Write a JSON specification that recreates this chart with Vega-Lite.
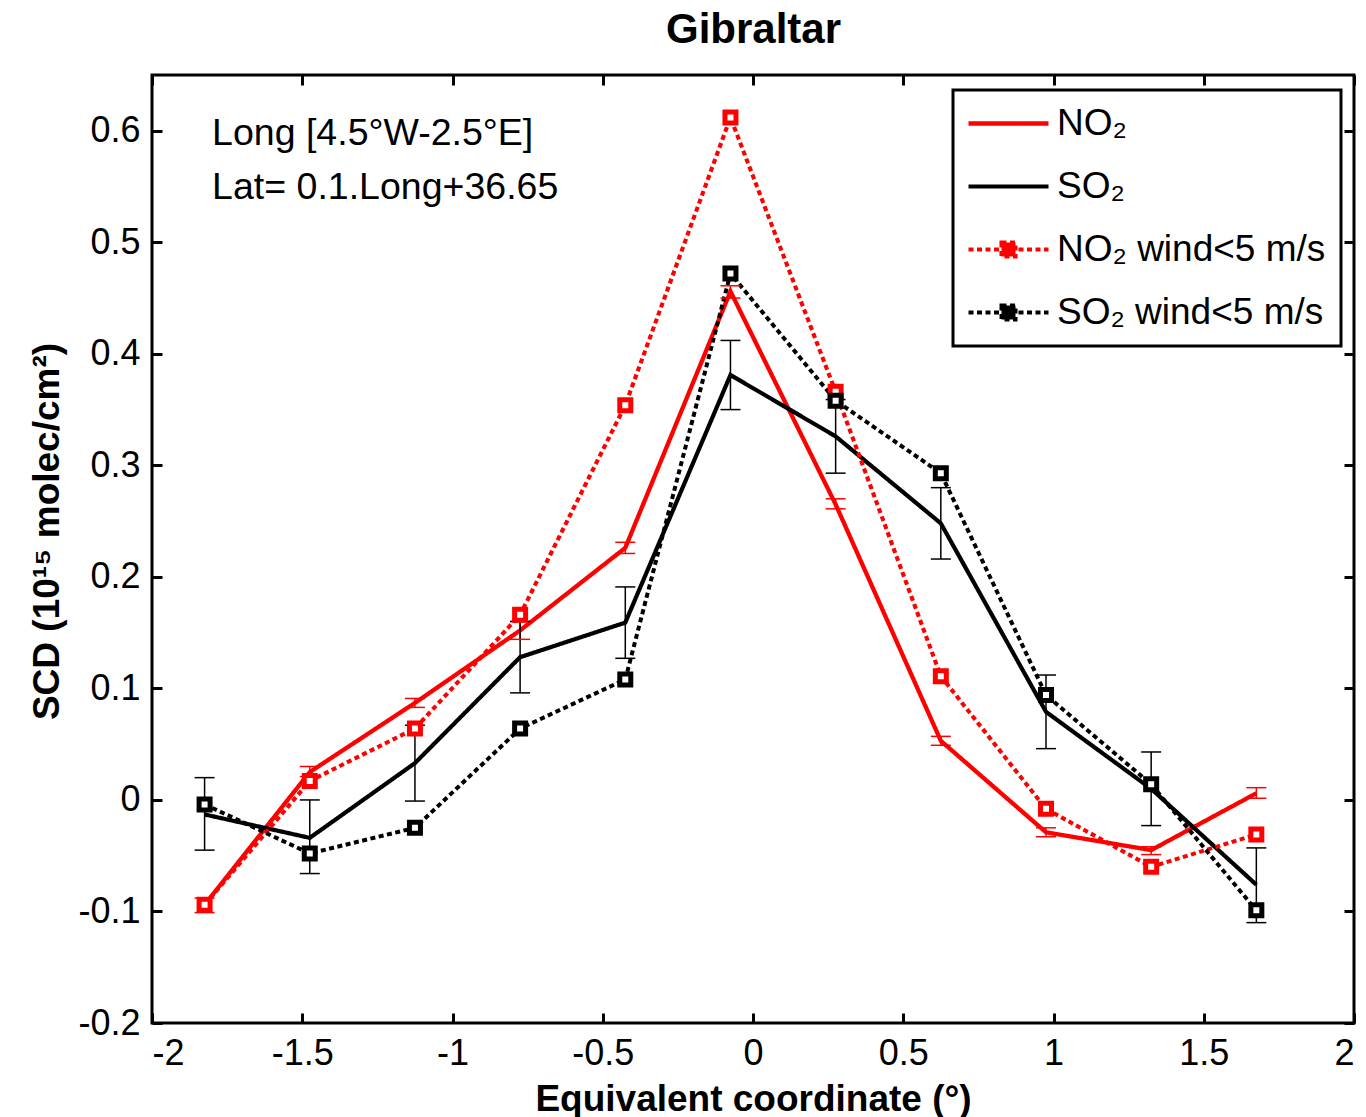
{
  "$schema": "https://vega.github.io/schema/vega-lite/v6.json",
  "width": 1202,
  "height": 948,
  "autosize": {"type": "none"},
  "padding": {"left": 152, "top": 75, "right": 12, "bottom": 94},
  "background": "white",
  "config": {
    "view": {"stroke": "black", "strokeWidth": 3},
    "font": "Liberation Sans",
    "axis": {
      "domain": false, "grid": false, "ticks": true, "tickSize": 10, "tickWidth": 3, "tickColor": "black", "offset": -10,
      "labelFontSize": 36, "labelColor": "black", "labelFont": "Liberation Sans",
      "titleFontSize": 37, "titleFontWeight": "bold", "titleColor": "black", "titleFont": "Liberation Sans"
    },
    "axisLeft": {"labelPadding": 12, "titleX": -104, "titleY": 456, "titleBaseline": "alphabetic", "titleAngle": -90},
    "axisBottom": {"labelPadding": 13, "titleY": 97, "titleBaseline": "alphabetic"},
    "axisTop": {"titleY": -43, "titleBaseline": "alphabetic", "titleFontSize": 42}
  },
  "datasets": {
    "main": [
      {"series": "NO₂", "x": -1.825, "y": -0.094, "lo": -0.101, "hi": -0.088},
      {"series": "NO₂", "x": -1.475, "y": 0.025, "lo": 0.021, "hi": 0.030},
      {"series": "NO₂", "x": -1.125, "y": 0.087, "lo": 0.083, "hi": 0.091},
      {"series": "NO₂", "x": -0.775, "y": 0.152, "lo": 0.144, "hi": 0.160},
      {"series": "NO₂", "x": -0.425, "y": 0.226, "lo": 0.221, "hi": 0.231},
      {"series": "NO₂", "x": -0.075, "y": 0.456, "lo": 0.450, "hi": 0.461},
      {"series": "NO₂", "x": 0.275, "y": 0.265, "lo": 0.261, "hi": 0.270},
      {"series": "NO₂", "x": 0.625, "y": 0.053, "lo": 0.049, "hi": 0.057},
      {"series": "NO₂", "x": 0.975, "y": -0.029, "lo": -0.033, "hi": -0.025},
      {"series": "NO₂", "x": 1.325, "y": -0.045, "lo": -0.049, "hi": -0.042},
      {"series": "NO₂", "x": 1.675, "y": 0.006, "lo": 0.0015, "hi": 0.011},
      {"series": "SO₂", "x": -1.825, "y": -0.013, "lo": -0.045, "hi": 0.020},
      {"series": "SO₂", "x": -1.475, "y": -0.034, "lo": -0.066, "hi": 0.000},
      {"series": "SO₂", "x": -1.125, "y": 0.033, "lo": -0.001, "hi": 0.067},
      {"series": "SO₂", "x": -0.775, "y": 0.128, "lo": 0.096, "hi": 0.160},
      {"series": "SO₂", "x": -0.425, "y": 0.159, "lo": 0.127, "hi": 0.191},
      {"series": "SO₂", "x": -0.075, "y": 0.381, "lo": 0.350, "hi": 0.412},
      {"series": "SO₂", "x": 0.275, "y": 0.326, "lo": 0.293, "hi": 0.359},
      {"series": "SO₂", "x": 0.625, "y": 0.248, "lo": 0.216, "hi": 0.280},
      {"series": "SO₂", "x": 0.975, "y": 0.079, "lo": 0.046, "hi": 0.112},
      {"series": "SO₂", "x": 1.325, "y": 0.010, "lo": -0.023, "hi": 0.043},
      {"series": "SO₂", "x": 1.675, "y": -0.076, "lo": -0.110, "hi": -0.043},
      {"series": "NO₂ wind<5 m/s", "x": -1.825, "y": -0.094},
      {"series": "NO₂ wind<5 m/s", "x": -1.475, "y": 0.017},
      {"series": "NO₂ wind<5 m/s", "x": -1.125, "y": 0.064},
      {"series": "NO₂ wind<5 m/s", "x": -0.775, "y": 0.166},
      {"series": "NO₂ wind<5 m/s", "x": -0.425, "y": 0.354},
      {"series": "NO₂ wind<5 m/s", "x": -0.075, "y": 0.612},
      {"series": "NO₂ wind<5 m/s", "x": 0.275, "y": 0.366},
      {"series": "NO₂ wind<5 m/s", "x": 0.625, "y": 0.111},
      {"series": "NO₂ wind<5 m/s", "x": 0.975, "y": -0.008},
      {"series": "NO₂ wind<5 m/s", "x": 1.325, "y": -0.060},
      {"series": "NO₂ wind<5 m/s", "x": 1.675, "y": -0.031},
      {"series": "SO₂ wind<5 m/s", "x": -1.825, "y": -0.004},
      {"series": "SO₂ wind<5 m/s", "x": -1.475, "y": -0.048},
      {"series": "SO₂ wind<5 m/s", "x": -1.125, "y": -0.025},
      {"series": "SO₂ wind<5 m/s", "x": -0.775, "y": 0.064},
      {"series": "SO₂ wind<5 m/s", "x": -0.425, "y": 0.108},
      {"series": "SO₂ wind<5 m/s", "x": -0.075, "y": 0.472},
      {"series": "SO₂ wind<5 m/s", "x": 0.275, "y": 0.358},
      {"series": "SO₂ wind<5 m/s", "x": 0.625, "y": 0.293},
      {"series": "SO₂ wind<5 m/s", "x": 0.975, "y": 0.094},
      {"series": "SO₂ wind<5 m/s", "x": 1.325, "y": 0.014},
      {"series": "SO₂ wind<5 m/s", "x": 1.675, "y": -0.099}
    ],
    "notes": [
      {"x": -1.80, "y": 0.5874, "text": "Long [4.5°W-2.5°E]"},
      {"x": -1.80, "y": 0.539, "text": "Lat= 0.1.Long+36.65"}
    ]
  },
  "layer": [
    {
      "data": {"name": "main"},
      "encoding": {
        "x": {"field": "x", "type": "quantitative", "scale": {"domain": [-2, 2], "nice": false, "zero": false},
              "axis": {"values": [-2, -1.5, -1, -0.5, 0, 0.5, 1, 1.5, 2], "labelExpr": "'' + datum.value", "title": "Equivalent coordinate (°)", "orient": "bottom"}}
      },
      "layer": [
        {
          "mark": {"type": "line", "strokeCap": "butt"},
          "encoding": {
            "y": {"field": "y", "type": "quantitative", "scale": {"domain": [-0.2, 0.65], "nice": false, "zero": false},
                  "axis": {"values": [-0.2, -0.1, 0, 0.1, 0.2, 0.3, 0.4, 0.5, 0.6], "labelExpr": "'' + datum.value", "title": "SCD (10¹⁵ molec/cm²)", "orient": "left"}},
            "color": {
              "field": "series", "type": "nominal",
              "scale": {"domain": ["NO₂", "SO₂", "NO₂ wind<5 m/s", "SO₂ wind<5 m/s"], "range": ["#ff0000", "#000000", "#ff0000", "#000000"]},
              "legend": {
                "orient": "none", "legendX": 801, "legendY": 15, "title": null,
                "padding": 15, "strokeColor": "black", "fillColor": "white",
                "symbolSize": 1024, "symbolStrokeWidth": 4, "symbolType": "stroke",
                "labelFontSize": 37, "labelFont": "Liberation Sans", "labelColor": "black",
                "labelOffset": 52, "rowPadding": 25, "labelLimit": 600,
                "encode": {
                  "legend": {"update": {"strokeWidth": {"value": 3}}},
                  "symbols": {"update": {
                    "shape": {"signal": "indexof(datum.value, 'wind') >= 0 ? 'M-1.125,0H-0.8125M-0.594,0H-0.281M-0.0625,0H0.25M0.469,0H0.781M2,0H2.3125M2.531,0H2.844M3.0625,0H3.375M3.594,0H3.875M0.9375,-0.4375H1.8125V0.4375H0.9375Z' : 'M-1.125,0H3.875'"},
                    "fill": {"signal": "indexof(datum.value, 'NO') >= 0 ? '#ff0000' : '#000000'"},
                    "stroke": {"signal": "indexof(datum.value, 'NO') >= 0 ? '#ff0000' : '#000000'"},
                    "strokeWidth": {"value": 4},
                    "opacity": {"value": 1}
                  }}
                }
              }
            },
            "strokeDash": {
              "field": "series", "type": "nominal", "legend": null,
              "scale": {"domain": ["NO₂", "SO₂", "NO₂ wind<5 m/s", "SO₂ wind<5 m/s"], "range": [[1, 0], [1, 0], [5, 3.5], [5, 3.5]]}
            },
            "strokeWidth": {
              "field": "series", "type": "nominal", "legend": null,
              "scale": {"domain": ["NO₂", "SO₂", "NO₂ wind<5 m/s", "SO₂ wind<5 m/s"], "range": [4.3, 4, 5, 5]}
            }
          }
        },
        {
          "transform": [{"filter": "isValid(datum.lo)"}],
          "mark": {"type": "rule", "strokeWidth": 1.5},
          "encoding": {
            "y": {"field": "lo", "type": "quantitative", "title": "SCD (10¹⁵ molec/cm²)"},
            "y2": {"field": "hi"},
            "color": {"field": "series", "type": "nominal"}
          }
        },
        {
          "transform": [{"filter": "isValid(datum.lo)"}],
          "mark": {"type": "tick", "orient": "horizontal", "size": 20, "thickness": 1.5, "opacity": 1},
          "encoding": {
            "y": {"field": "lo", "type": "quantitative", "title": "SCD (10¹⁵ molec/cm²)"},
            "color": {"field": "series", "type": "nominal"}
          }
        },
        {
          "transform": [{"filter": "isValid(datum.lo)"}],
          "mark": {"type": "tick", "orient": "horizontal", "size": 20, "thickness": 1.5, "opacity": 1},
          "encoding": {
            "y": {"field": "hi", "type": "quantitative", "title": "SCD (10¹⁵ molec/cm²)"},
            "color": {"field": "series", "type": "nominal"}
          }
        },
        {
          "transform": [{"filter": "indexof(datum.series, 'wind') >= 0"}],
          "mark": {"type": "point", "shape": "square", "size": 121, "strokeWidth": 5, "filled": false, "fill": "white", "fillOpacity": 1, "opacity": 1},
          "encoding": {
            "y": {"field": "y", "type": "quantitative", "title": "SCD (10¹⁵ molec/cm²)"},
            "color": {"field": "series", "type": "nominal"}
          }
        }
      ]
    },
    {
      "data": {"name": "notes"},
      "mark": {"type": "text", "align": "left", "baseline": "alphabetic", "fontSize": 37.5, "font": "Liberation Sans", "color": "black"},
      "encoding": {
        "x": {"field": "x", "type": "quantitative", "scale": {"domain": [-2, 2], "nice": false, "zero": false},
              "axis": {"orient": "top", "values": [-2, -1.5, -1, -0.5, 0, 0.5, 1, 1.5, 2], "labels": false, "title": "Gibraltar"}},
        "y": {"field": "y", "type": "quantitative", "scale": {"domain": [-0.2, 0.65], "nice": false, "zero": false},
              "axis": {"orient": "right", "values": [-0.2, -0.1, 0, 0.1, 0.2, 0.3, 0.4, 0.5, 0.6], "labels": false, "title": null}},
        "text": {"field": "text"}
      }
    }
  ],
  "resolve": {"scale": {"x": "independent", "y": "independent"}}
}
